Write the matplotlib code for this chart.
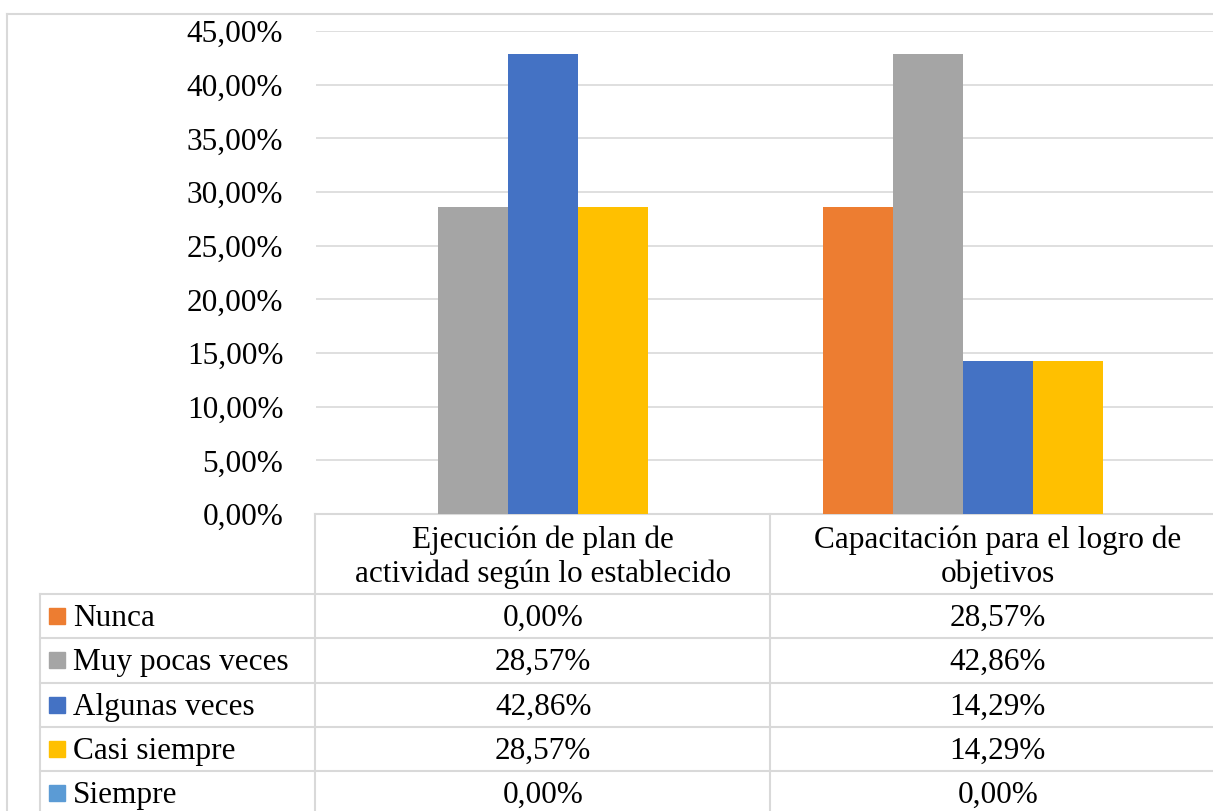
import matplotlib
matplotlib.use("Agg")
import matplotlib.pyplot as plt
from matplotlib.patches import Rectangle
from matplotlib.transforms import blended_transform_factory

categories = ["Ejecución de plan de\nactividad según lo establecido",
              "Capacitación para el logro de\nobjetivos"]
series = ["Nunca", "Muy pocas veces", "Algunas veces", "Casi siempre", "Siempre"]
values = [
    [0.00, 28.57],
    [28.57, 42.86],
    [42.86, 14.29],
    [28.57, 14.29],
    [0.00, 0.00],
]
colors = ["#ED7D31", "#A5A5A5", "#4472C4", "#FFC000", "#5B9BD5"]
yticks = [0, 5, 10, 15, 20, 25, 30, 35, 40, 45]

plt.rcParams['font.family'] = ['Liberation Serif', 'DejaVu Serif']
FS = 22.5
GRID = "#D9D9D9"

W, H = 1213, 811
fig = plt.figure(figsize=(W / 100, H / 100), dpi=100)
fig.patch.set_facecolor("white")

# overlay in pixel coordinates
ov = fig.add_axes([0, 0, 1, 1])
ov.set_xlim(0, W)
ov.set_ylim(H, 0)
ov.axis("off")

left, right, top, bottom = 316, 1225, 31, 514
ax = fig.add_axes([left / W, 1 - bottom / H, (right - left) / W, (bottom - top) / H])
ax.set_facecolor("none")
ax.set_xlim(-0.5, len(categories) - 0.5)
ax.set_ylim(0, 45)
ax.set_yticks(yticks)
ax.set_yticklabels([f"{v:.2f}".replace(".", ",") + "%" for v in yticks], fontsize=FS)
ax.tick_params(axis="y", length=0, pad=23.5)
ax.set_xticks([])
for s in ax.spines.values():
    s.set_visible(False)
ax.grid(axis="y", color=GRID, linewidth=1.2)
ax.set_axisbelow(True)

bw = 0.154
n = len(series)
for i, (name, vals, c) in enumerate(zip(series, values, colors)):
    xs = [k + (i - (n - 1) / 2) * bw for k in range(len(categories))]
    ax.bar(xs, vals, width=bw, color=c, zorder=3)

# outer chart border
ov.plot([7, 7], [14, H + 5], color=GRID, lw=1.5, clip_on=False)
ov.plot([7, W + 5], [14, 14], color=GRID, lw=1.5, clip_on=False)

# data table
row_tops = [594, 638, 683, 727, 771]
row_h = 44.3
ov.plot([315, W + 5], [bottom, bottom], color=GRID, lw=1.5)
for y in row_tops:
    ov.plot([40, W + 5], [y, y], color=GRID, lw=1.5)
ov.plot([40, 40], [594, H + 5], color=GRID, lw=1.5)
ov.plot([315, 315], [bottom, H + 5], color=GRID, lw=1.5)
ov.plot([770, 770], [bottom, H + 5], color=GRID, lw=1.5)

bt = blended_transform_factory(ax.transData, ov.transData)
for k, cat in enumerate(categories):
    ov.text(k, 557, cat, transform=bt, ha="center", va="center", fontsize=FS,
            linespacing=1.2)

for i, (name, vals, c) in enumerate(zip(series, values, colors)):
    yc = row_tops[i] + row_h / 2
    ov.add_patch(Rectangle((49, yc - 8), 16, 16, color=c))
    ov.text(73, yc + 2, name, ha="left", va="center", fontsize=FS)
    for k, v in enumerate(vals):
        ov.text(k, yc + 2, f"{v:.2f}".replace(".", ",") + "%", transform=bt,
                ha="center", va="center", fontsize=FS)

fig.savefig("out.png", dpi=100)
